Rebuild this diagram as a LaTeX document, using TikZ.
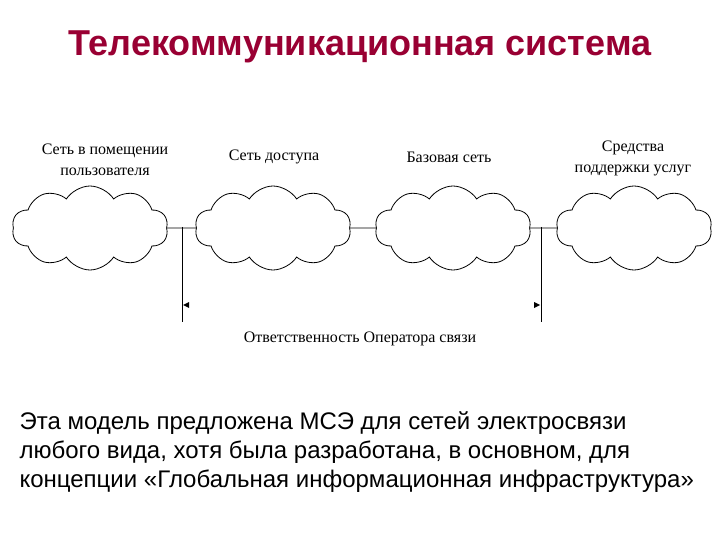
\documentclass[tikz,border=0pt]{standalone}
\usepackage{fontspec}
\setmainfont{Liberation Sans}
\newfontfamily\labelfont{Liberation Serif}
\usetikzlibrary{shapes.symbols}
\definecolor{titlered}{RGB}{153,0,51}
\begin{document}
\begin{tikzpicture}[x=1pt,y=-1pt,
  netcloud/.style={cloud,draw,line width=0.8pt,cloud puffs=10,cloud puff arc=115,aspect=1.9,minimum width=156pt,minimum height=84pt,inner sep=0pt},
  netlabel/.style={font=\labelfont\fontsize{16}{21}\selectfont,align=center},
  link/.style={line width=0.8pt}]
\useasboundingbox (0,0) rectangle (720,540);
\node [font=\bfseries\fontsize{36}{40}\selectfont,text=titlered,anchor=base] (title) at (360,56) {Телекоммуникационная система};
\node [netcloud] (c1) at (90,228) {};
\node [netcloud] (c2) at (273,228) {};
\node [netcloud] (c3) at (453,228) {};
\node [netcloud] (c4) at (634,228) {};
\node [netlabel] (l1) at (105,160) {Сеть в помещении\\пользователя};
\node [netlabel] (l2) at (274,157) {Сеть доступа};
\node [netlabel] (l3) at (449,157) {Базовая сеть};
\node [netlabel] (l4) at (633,158) {Средства\\поддержки услуг};
\draw [link] (c1.east) -- (c2.west);
\draw [link] (c2.east) -- (c3.west);
\draw [link] (c3.east) -- (c4.west);
\coordinate (p1) at (182,227);
\coordinate (q1) at (182,322);
\coordinate (p2) at (541,227);
\coordinate (q2) at (541,322);
\draw [link] (p1) -- (q1);
\draw [link] (p2) -- (q2);
\coordinate (b1) at (183,305);
\coordinate (b2) at (540,305);
\fill (b1) -- ++(6,-3) -- ++(0,6) -- cycle;
\fill (b2) -- ++(-6,-3) -- ++(0,6) -- cycle;
\node [netlabel] (resp) at (360,339) {Ответственность Оператора связи};
\node [font=\fontsize{24}{29}\selectfont,align=left,anchor=north west] (note) at (16,408) {Эта модель предложена МСЭ для сетей электросвязи\\любого вида, хотя была разработана, в основном, для\\концепции «Глобальная информационная инфраструктура»};
\end{tikzpicture}
\end{document}
